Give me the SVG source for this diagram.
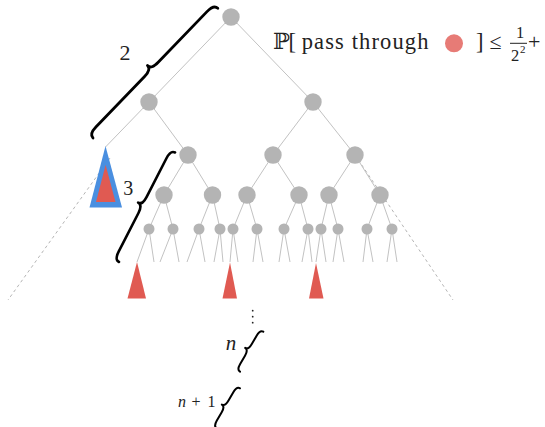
<svg xmlns="http://www.w3.org/2000/svg" width="545" height="427" viewBox="0 0 545 427">
<style>
.e{stroke:#c2c2c2;stroke-width:1;fill:none}
.d{stroke:#b5b5b5;stroke-width:1;stroke-dasharray:3 3;fill:none}
.n{fill:#b4b4b4}
.tri{fill:#e05a52}
.br{fill:none;stroke:#000;stroke-linecap:round;stroke-linejoin:round}
text{fill:#222}
</style>
<rect width="545" height="427" fill="#fff"/>
<g id="connectors">
<path class="d" d="M110,158 L8,300 M355,155 L453,300"/>
<path class="e" d="M231,17 L149,102 M231,17 L313,102
M149,102 L105.5,147 M149,102 L188,155
M313,102 L273,155 M313,102 L355,155
M188,155 L164,195 M188,155 L212.5,195
M273,155 L247,195 M273,155 L299,195
M355,155 L329,195 M355,155 L380,195
M164,195 L149,229 M164,195 L173,229
M212.5,195 L199,229 M212.5,195 L220,229
M247,195 L233,229 M247,195 L257,229
M299,195 L284,229 M299,195 L308,229
M329,195 L321,229 M329,195 L338,229
M380,195 L367,229 M380,195 L392,229
M149,229 L137,262 M149,229 L154,262
M173,229 L160,262 M173,229 L179,262
M199,229 L187,262 M199,229 L205,262
M220,229 L214,262 M220,229 L223,262
M233,229 L230,262 M233,229 L238,262
M257,229 L253,262 M257,229 L263,262
M284,229 L279,262 M284,229 L290,262
M308,229 L302,262 M308,229 L312,262
M321,229 L316,262 M321,229 L326,262
M338,229 L333,262 M338,229 L344,262
M367,229 L363,262 M367,229 L373,262
M392,229 L387,262 M392,229 L397,262"/>
</g>
<g id="n0"><circle class="n" cx="231" cy="17" r="8.7"/></g>
<g id="n1a"><circle class="n" cx="149" cy="102" r="8.7"/></g>
<g id="n1b"><circle class="n" cx="313" cy="102" r="8.7"/></g>
<g id="n2a"><circle class="n" cx="188" cy="155" r="8.7"/></g>
<g id="n2b"><circle class="n" cx="273" cy="155" r="8.7"/></g>
<g id="n2c"><circle class="n" cx="355" cy="155" r="8.7"/></g>
<g id="n3a"><circle class="n" cx="164" cy="195" r="8.7"/></g>
<g id="n3b"><circle class="n" cx="212.5" cy="195" r="8.7"/></g>
<g id="n3c"><circle class="n" cx="247" cy="195" r="8.7"/></g>
<g id="n3d"><circle class="n" cx="299" cy="195" r="8.7"/></g>
<g id="n3e"><circle class="n" cx="329" cy="195" r="8.7"/></g>
<g id="n3f"><circle class="n" cx="380" cy="195" r="8.7"/></g>
<g id="n4">
<circle class="n" cx="149" cy="229" r="5.5"/><circle class="n" cx="173" cy="229" r="5.5"/>
<circle class="n" cx="199" cy="229" r="5.5"/><circle class="n" cx="220" cy="229" r="5.5"/>
<circle class="n" cx="233" cy="229" r="5.5"/><circle class="n" cx="257" cy="229" r="5.5"/>
<circle class="n" cx="284" cy="229" r="5.5"/><circle class="n" cx="308" cy="229" r="5.5"/>
<circle class="n" cx="321" cy="229" r="5.5"/><circle class="n" cx="338" cy="229" r="5.5"/>
<circle class="n" cx="367" cy="229" r="5.5"/><circle class="n" cx="392" cy="229" r="5.5"/>
</g>
<g id="blueTriangle">
<polygon points="105.5,146 89.5,207.5 122,207.5" fill="#4a8fe0"/>
<polygon class="tri" points="105.6,165 96,202 115.5,202"/>
</g>
<g id="redTriangles">
<polygon class="tri" points="137,262 127.5,298.5 146,298.5"/>
<polygon class="tri" points="230,262.5 222.5,298.5 237,298.5"/>
<polygon class="tri" points="316,263 309,298.5 323.5,298.5"/>
</g>
<g id="braces">
<path class="br" stroke-width="2.8" transform="translate(93,138) rotate(-46.1)" d="M0,0 C0,-3.85 2.75,-5.5 9.9,-5.5 L80.1,-5.5 C87.25,-5.5 90,-7.15 90,-11 C90,-7.15 92.75,-5.5 100.1,-5.5 L170.1,-5.5 C177.25,-5.5 180,-3.85 180,0"/>
<path class="br" stroke-width="2.6" transform="translate(119,262) rotate(-62.9)" d="M0,0 C0,-3.5 2.5,-5 9,-5 L52.5,-5 C59,-5 61.5,-6.5 61.5,-10 C61.5,-6.5 64,-5 70.5,-5 L114,-5 C120.5,-5 123,-3.5 123,0"/>
<path class="br" stroke-width="2" transform="translate(240,371.7) rotate(-59.8)" d="M0,0 C0,-2.6 1.9,-3.75 6.75,-3.75 L16.4,-3.75 C21.3,-3.75 23.15,-4.9 23.15,-7.5 C23.15,-4.9 25,-3.75 29.9,-3.75 L39.5,-3.75 C44.4,-3.75 46.3,-2.6 46.3,0"/>
<path class="br" stroke-width="2" transform="translate(216.7,428.3) rotate(-59.8)" d="M0,0 C0,-2.6 1.9,-3.75 6.75,-3.75 L16.4,-3.75 C21.3,-3.75 23.15,-4.9 23.15,-7.5 C23.15,-4.9 25,-3.75 29.9,-3.75 L39.5,-3.75 C44.4,-3.75 46.3,-2.6 46.3,0"/>
</g>
<g id="labels" font-family="Liberation Serif, DejaVu Serif, serif">
<text x="125" y="60" font-size="22" text-anchor="middle">2</text>
<text x="128.3" y="195" font-size="20" text-anchor="middle">3</text>
<circle cx="252.7" cy="310.7" r="0.9" fill="#222"/>
<circle cx="252.7" cy="316.7" r="0.9" fill="#222"/>
<circle cx="252.7" cy="322.7" r="0.9" fill="#222"/>
<text x="231" y="350" font-size="21" font-style="italic" text-anchor="middle">n</text>
<text y="406.7" font-size="16"><tspan x="178" font-style="italic">n</tspan><tspan x="191.5">+</tspan><tspan x="207.5">1</tspan></text>
</g>
<g id="formula" font-family="Liberation Serif, DejaVu Serif, serif">
<text x="273" y="49" font-size="22.5" font-family="DejaVu Serif, serif">ℙ</text>
<text x="288.5" y="49" font-size="22.5">[</text>
<text x="301.7" y="49" font-size="22.5" textLength="126.7" lengthAdjust="spacing">pass through</text>
<circle cx="454" cy="43.3" r="9" fill="#e77b76"/>
<text x="476" y="49" font-size="22.5">]</text>
<text x="489.5" y="49" font-size="22">≤</text>
<text x="520" y="38" font-size="16.5" text-anchor="middle">1</text>
<line x1="510" y1="43.3" x2="527" y2="43.3" stroke="#222" stroke-width="1"/>
<text x="511" y="61" font-size="16.5">2</text>
<text x="520" y="53.3" font-size="11">2</text>
<text x="528" y="49" font-size="22">+</text>
</g>
</svg>
